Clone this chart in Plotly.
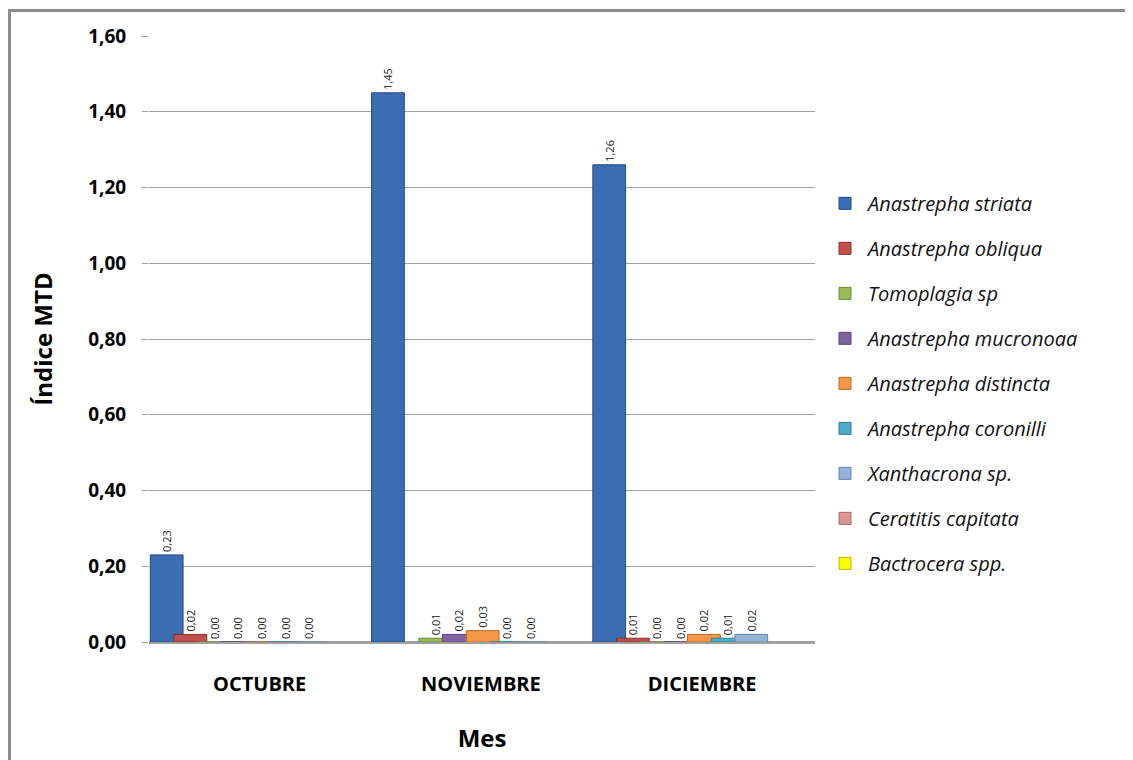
import plotly.graph_objects as go

months = ["OCTUBRE", "NOVIEMBRE", "DICIEMBRE"]
species = ["Anastrepha striata", "Anastrepha obliqua", "Tomoplagia sp",
           "Anastrepha mucronoaa", "Anastrepha distincta", "Anastrepha coronilli",
           "Xanthacrona sp.", "Ceratitis capitata", "Bactrocera spp."]
striata = [0.23, 1.45, 1.26]
obliqua = [0.02, None, 0.01]
tomoplagia = [0.00, 0.01, 0.00]
mucronoaa = [0.00, 0.02, 0.00]
distincta = [0.00, 0.03, 0.02]
coronilli = [0.00, 0.00, 0.01]
xanthacrona = [0.00, 0.00, 0.02]
ceratitis = [None, None, None]
bactrocera = [None, None, None]
series = [striata, obliqua, tomoplagia, mucronoaa, distincta, coronilli,
          xanthacrona, ceratitis, bactrocera]

colors = ["#3B6DB3", "#C0504D", "#9BBB59", "#8064A2", "#F79646", "#4BACC6",
          "#95B3D7", "#D99694", "#FFFF00"]
lines = ["#24497F", "#8C2D2A", "#6E8A38", "#5A4478", "#B86A26", "#2F7F96",
         "#6585B0", "#A86E6C", "#B8B800"]

FONT = "Open Sans"
L, T, R, B = 141, 28, 326, 126
PW = 1133 - L - R
PH = 760 - T - B

fig = go.Figure()
slot = 0.107
bw = 0.148
start = -0.42
for i, (name, vals) in enumerate(zip(species, series)):
    c = start + slot * i
    fig.add_trace(go.Bar(
        x=months, y=vals, name="<i>" + name + "</i>",
        marker=dict(color=colors[i], line=dict(color=lines[i], width=1)),
        width=bw, offset=c - bw / 2,
        texttemplate="%{y:.2f}", textposition="outside", textangle=-90,
        textfont=dict(size=11, color="#222", family=FONT),
        cliponaxis=False, legendgroup="g%d" % i,
    ))

fig.update_layout(
    barmode="overlay", separators=",.",
    width=1133, height=760,
    margin=dict(l=L, r=R, t=T, b=B),
    paper_bgcolor="white", plot_bgcolor="white",
    font=dict(family=FONT, color="#000"),
    showlegend=True,
    legend=dict(x=(814 - L) / PW, y=0.756, xanchor="left", yanchor="top",
                font=dict(size=20, family=FONT, color="#111"),
                tracegroupgap=16, itemwidth=36),
    xaxis=dict(showgrid=False, showline=False, ticks="",
               tickfont=dict(size=20, family=FONT, color="#000", weight="bold"),
               ticklabelstandoff=28,
               title=dict(text="<b>Mes</b>", font=dict(size=24, family=FONT), standoff=34)),
    yaxis=dict(range=[0, 1.6], dtick=0.2, tickformat=".2f",
               showgrid=True, gridcolor="#A0A0A0", gridwidth=1,
               ticks="outside", ticklen=6, tickcolor="#A0A0A0",
               showline=False, zeroline=True, zerolinecolor="#A0A0A0", zerolinewidth=3,
               tickfont=dict(size=19, family=FONT, color="#000", weight="bold"),
               ticklabelstandoff=12,
               title=dict(text="<b>Índice MTD</b>", font=dict(size=24, family=FONT), standoff=28)),
    shapes=[dict(type="rect", xref="paper", yref="paper",
                 x0=(1.5 - L) / PW, x1=1.6, y0=-0.4, y1=(760 - B - 2.5) / PH,
                 line=dict(color="#8C8C8C", width=3), fillcolor="rgba(0,0,0,0)", layer="below")],
)

fig.write_html("out.html")
